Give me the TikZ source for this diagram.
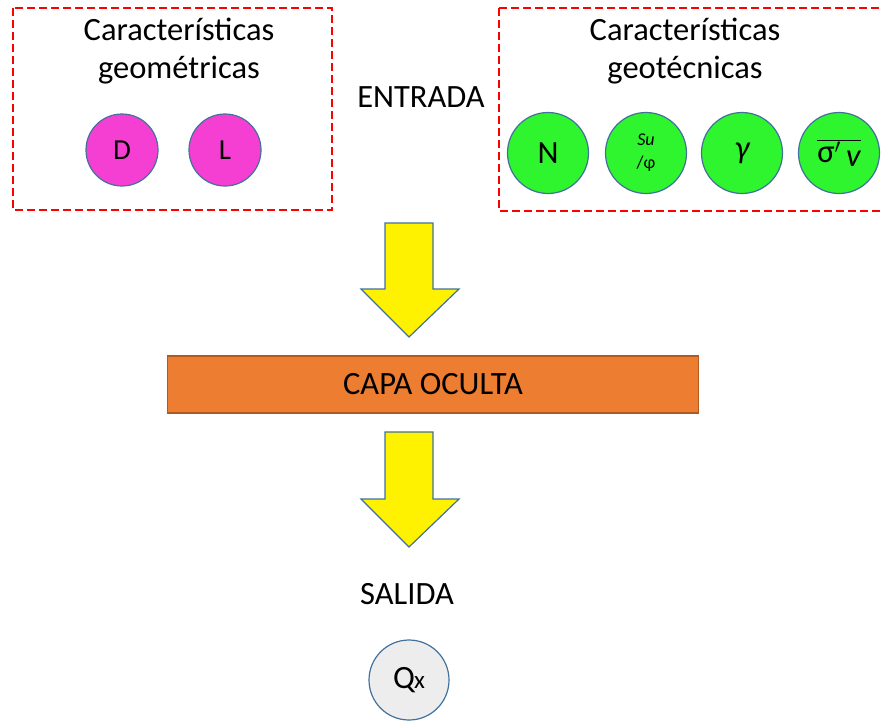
\documentclass[tikz,border=0pt]{standalone}
\usepackage{fontspec}
\setmainfont{Carlito}
\definecolor{rimblue}{HTML}{41719C}
\definecolor{pinkin}{HTML}{F53FD3}
\definecolor{greenin}{HTML}{2EF52E}
\definecolor{layerorange}{HTML}{ED7D31}
\definecolor{layerrim}{HTML}{AE5A21}
\definecolor{outgray}{HTML}{EDEDED}
\begin{document}
\begin{tikzpicture}[x=1pt, y=-1pt,
  every node/.style={font=\fontsize{32.5}{38}\selectfont, inner sep=0pt},
  groupbox/.style={draw=red, line width=1.5pt, dash pattern=on 8pt off 4pt},
  unit/.style={circle, draw=rimblue, line width=1.2pt, minimum size=#1},
  geo/.style={unit=72, fill=pinkin, font=\fontsize{29}{34}\selectfont},
  soil/.style={unit=81, fill=greenin},
  fatarrow/.style={fill=yellow, draw=rimblue, line width=1.2pt, line join=miter}]
  \useasboundingbox (0,0) rectangle (881,721);
  \clip (0,0) rectangle (881,721);
  % input groups
  \draw[groupbox] (13,8) rectangle (332,210);
  \draw[groupbox] (499,8) rectangle (900,211);
  \node[align=center] (geotitle) at (179,51) {Características\\geométricas};
  \node[align=center] (soiltitle) at (685,51) {Características\\geotécnicas};
  \node (entrada) at (421,97) {ENTRADA};
  \node[geo] (d) at (122,150) {D};
  \node[geo] (l) at (225,150) {L};
  \node[soil] (n) at (548,153) {N};
  \node[soil, align=center, font=\fontsize{18}{23}\selectfont] (su) at (646,153)
    {{\itshape Su}\\/φ};
  \node[soil] (gamma) at (742,153) {\itshape γ};
  \node[soil] (sigma) at (839,153)
    {$\overline{\hbox{σ$'$\,\raisebox{-4pt}{\itshape v}}}$};
  % hidden layer
  \node[draw=layerrim, fill=layerorange, line width=1.5pt,
        minimum width=531, minimum height=57] (hidden) at (433,384.5) {CAPA OCULTA};
  \draw[fatarrow] (385,223) -- (433,223) -- (433,289) -- (459,289) -- (409,337)
    -- (361,289) -- (385,289) -- cycle;
  \draw[fatarrow] (385,432) -- (433,432) -- (433,499) -- (459,499) -- (409,547)
    -- (361,499) -- (385,499) -- cycle;
  % output
  \node (salida) at (407,594) {SALIDA};
  \node[unit=80, fill=outgray] (q) at (409,680)
    {Q\kern-1pt{\fontsize{25}{25}\selectfont x}};
\end{tikzpicture}
\end{document}
